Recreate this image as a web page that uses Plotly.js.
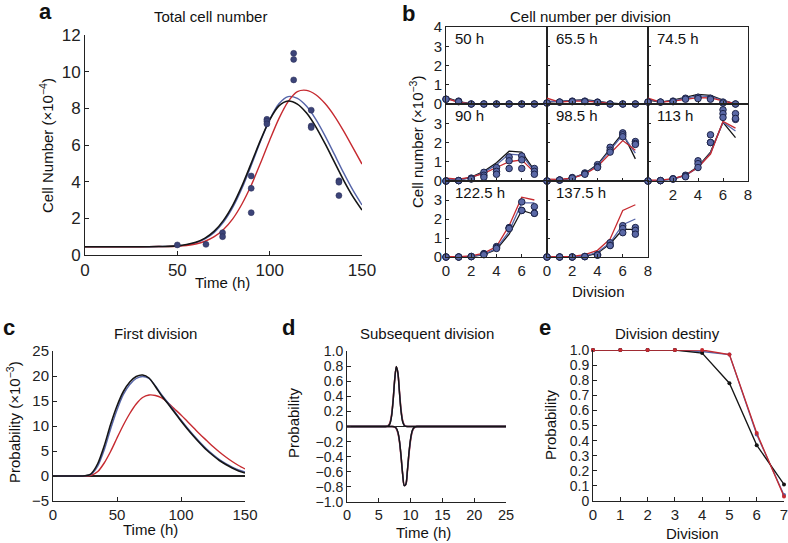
<!DOCTYPE html>
<html><head><meta charset="utf-8">
<script src="https://cdn.plot.ly/plotly-3.0.1.min.js"></script>
<style>html,body{margin:0;padding:0;background:#fff}#chart{width:788px;height:543px}</style>
</head><body><div id="chart"></div>
<script>
// ---------- Panel a : Total cell number ----------
const aTime  = [0,10,20,30,40,45,50,55,60,65,70,75,80,85,90,95,100,105,110,115,120,125,130,135,140,145,150];
const aBlack = [0.45,0.45,0.45,0.45,0.46,0.47,0.5,0.57,0.69,0.92,1.3,1.89,2.71,3.77,5.0,6.25,7.37,8.13,8.4,8.23,7.74,6.99,6.07,5.08,4.09,3.2,2.45];
const aBlue  = [0.45,0.45,0.45,0.45,0.46,0.47,0.5,0.55,0.67,0.88,1.23,1.79,2.59,3.64,4.88,6.19,7.38,8.25,8.64,8.54,8.11,7.4,6.5,5.5,4.49,3.55,2.73];
const aRed   = [0.45,0.45,0.45,0.45,0.46,0.46,0.48,0.52,0.6,0.75,1.0,1.39,1.97,2.78,3.8,5.0,6.26,7.44,8.37,8.91,8.98,8.74,8.26,7.59,6.77,5.87,4.96];
const aObsTime  = [50,65.5,74.5,74.5,90,90,90,98.5,98.5,98.5,113,113,113,122.5,122.5,122.5,137.5,137.5,137.5];
const aObsCount = [0.55,0.58,1.22,1.0,4.31,3.64,2.31,7.4,7.3,7.15,11.0,10.67,9.55,7.9,7.04,6.95,4.05,3.97,3.24];

// ---------- Panel b : Cell number per division ----------
const bDivision = [0,1,2,3,4,5,6,7];
const bTimes = ['50 h','65.5 h','74.5 h','90 h','98.5 h','113 h','122.5 h','137.5 h'];
const bObs50  = [[0.25,0.15,0,0,0,0,0,0],[0.25,0.12,0,0,0,0,0,0]];
const bObs65  = [[0.05,0.1,0.15,0.15,0.1,0,0,0],[0.05,0.1,0.12,0.12,0.08,0,0,0]];
const bObs74  = [[0.1,0.1,0.15,0.3,0.35,0.3,0.1,0],[0.1,0.1,0.12,0.25,0.28,0.25,0.05,0]];
const bObs90  = [[0,0.02,0.15,0.45,0.7,1.25,1.3,0.65],[0,0.02,0.12,0.3,0.5,1.05,1.1,0.5],[0,0.02,0.1,0.2,0.35,0.65,0.65,0.35]];
const bObs98  = [[0,0.05,0.18,0.42,0.85,1.75,2.5,2.05],[0,0.05,0.15,0.38,0.75,1.6,2.4,1.95],[0,0.05,0.15,0.35,0.7,1.5,2.3,1.9]];
const bObs113 = [[0,0.02,0.12,0.3,1.05,2.4,3.7,3.5],[0,0.02,0.1,0.25,0.9,2.0,3.5,3.2],[0,0.02,0.1,0.22,0.7,2.0,3.3,3.25]];
const bObs122 = [[0,0,0.03,0.18,0.55,1.55,2.9,2.65],[0,0,0.02,0.15,0.5,1.5,2.45,2.3],[0,0,0.02,0.12,0.45,1.5,2.45,2.3]];
const bObs137 = [[0,0,0,0.03,0.12,0.75,1.65,1.55],[0,0,0,0.02,0.1,0.62,1.5,1.4],[0,0,0,0.02,0.1,0.6,1.28,1.2]];
const bBlack = [[0.35,0.12,0.02,0,0,0,0,0],[0.1,0.15,0.2,0.22,0.15,0.05,0,0],[0.2,0.1,0.2,0.35,0.5,0.45,0.2,0],[0.1,0.05,0.2,0.5,0.95,1.55,1.5,0.55],[0.02,0.05,0.15,0.4,0.85,1.7,2.5,1.15],[0.02,0.03,0.1,0.3,0.75,1.5,3.05,2.25],[0,0,0.02,0.12,0.4,1.2,2.45,2.25],[0,0,0,0.03,0.2,0.7,1.45,1.45]];
const bBlue  = [[0.3,0.1,0.02,0,0,0,0,0],[0.15,0.12,0.18,0.2,0.12,0.04,0,0],[0.25,0.1,0.18,0.3,0.42,0.38,0.18,0],[0.08,0.05,0.18,0.45,0.85,1.4,1.35,0.5],[0.02,0.05,0.15,0.38,0.8,1.6,2.4,1.45],[0.02,0.03,0.1,0.28,0.7,1.45,3.05,2.6],[0,0,0.03,0.14,0.45,1.35,2.85,2.85],[0,0,0.01,0.05,0.25,0.75,1.7,2.0]];
const bRed   = [[0.3,0.08,0.01,0,0,0,0,0],[0.3,0.1,0.15,0.15,0.1,0.03,0,0],[0.3,0.1,0.15,0.25,0.33,0.32,0.15,0],[0.15,0.1,0.2,0.4,0.7,1.0,1.1,0.45],[0.1,0.08,0.15,0.35,0.75,1.4,2.1,1.6],[0.05,0.05,0.12,0.3,0.7,1.4,3.1,2.75],[0.02,0.02,0.06,0.2,0.55,1.65,3.15,3.0],[0,0,0.03,0.12,0.35,0.95,2.45,2.75]];

// ---------- Panel c : First division ----------
const cTime  = [0,20,25,28,30,35,40,45,50,55,60,65,70,75,80,85,90,95,100,105,110,115,120,125,130,135,140,145,150];
const cBlack = [0,0,0.05,0.2,0.5,2.5,6.0,10.3,14.0,16.9,18.8,19.9,20.2,19.6,17.9,16.0,14.4,12.7,11.0,9.4,7.9,6.5,5.2,4.1,3.1,2.3,1.6,1.0,0.6];
const cBlue  = [0,0,0.03,0.15,0.35,2.0,5.2,9.4,13.2,16.3,18.3,19.5,19.9,19.5,18.0,16.2,14.6,12.9,11.2,9.6,8.1,6.7,5.4,4.3,3.3,2.5,1.8,1.2,0.8];
const cRed   = [0,0,0,0.05,0.15,0.9,2.6,4.9,7.6,10.2,12.5,14.4,15.7,16.2,16.1,15.6,14.6,13.4,12.2,10.9,9.6,8.3,7.1,5.9,4.8,3.8,2.9,2.1,1.4];

// ---------- Panel d : Subsequent division ----------
const dTime     = [0,5,6,6.25,6.5,6.75,7,7.25,7.5,7.75,8,8.25,8.5,8.75,9,9.25,9.5,9.75,10,10.25,10.5,10.75,11,11.5,12,25];
const dPosBlack = [0,0,0,0.001,0.007,0.035,0.13,0.34,0.62,0.795,0.71,0.45,0.2,0.062,0.014,0.002,0,0,0,0,0,0,0,0,0,0];
const dNegBlack = [0,0,0,0,0,0,0,0,-0.005,-0.021,-0.071,-0.19,-0.39,-0.63,-0.784,-0.765,-0.58,-0.34,-0.16,-0.057,-0.016,-0.003,0,0,0,0];
const dPosBlue  = [0,0,0,0.002,0.01,0.04,0.14,0.34,0.62,0.79,0.71,0.45,0.21,0.07,0.017,0.003,0,0,0,0,0,0,0,0,0,0];
const dNegBlue  = [0,0,0,0,0,0,0,-0.001,-0.006,-0.025,-0.078,-0.195,-0.395,-0.63,-0.782,-0.767,-0.585,-0.35,-0.17,-0.063,-0.02,-0.004,0,0,0,0];
const dPosRed   = [0,0,0,0.003,0.015,0.05,0.15,0.35,0.62,0.79,0.71,0.46,0.22,0.08,0.022,0.005,0.001,0,0,0,0,0,0,0,0,0];
const dNegRed   = [0,0,0,0,0,0,0,-0.002,-0.008,-0.03,-0.085,-0.2,-0.4,-0.63,-0.78,-0.77,-0.59,-0.36,-0.18,-0.07,-0.025,-0.006,-0.001,0,0,0];

// ---------- Panel e : Division destiny ----------
const eDivision = [0,1,2,3,4,5,6,7];
const eBlack = [1,1,1,1,0.98,0.78,0.37,0.11];
const eBlue  = [1,1,1,1,0.99,0.97,0.44,0.04];
const eRed   = [1,1,1,1,1.0,0.97,0.45,0.03];

// ---------- styles ----------
const W=788,H=543;
const FONT='Liberation Sans, Arial, Helvetica, sans-serif';
const BLACK='#151515', BLUE='#5564a8', RED='#c62a30', AX='#222';
const X=(a,b)=>[a/W,b/W];
const Y=(top,bot)=>[1-bot/H,1-top/H];
const traces=[];
const layout={width:W,height:H,margin:{l:0,r:0,t:0,b:0},showlegend:false,
  paper_bgcolor:'#fff',plot_bgcolor:'rgba(0,0,0,0)',font:{family:FONT,color:AX},annotations:[]};

function ax(opts){
  return Object.assign({showgrid:false,zeroline:false,showline:true,linecolor:AX,linewidth:1,
    ticks:'inside',ticklen:4,tickcolor:AX,tickfont:{family:FONT,size:15,color:AX},
    ticklabeloverflow:'allow',fixedrange:true},opts);
}
function line(x,y,xa,ya,color,w,shape){
  traces.push({x:x,y:y,xaxis:xa,yaxis:ya,type:'scatter',mode:'lines',
    line:{color:color,width:w,shape:shape||'linear',smoothing:0.8},cliponaxis:false,hoverinfo:'skip'});
}
function ann(text,px,py,size,opts){
  layout.annotations.push(Object.assign({text:text,x:px/W,y:1-py/H,xref:'paper',yref:'paper',
    showarrow:false,xanchor:'center',yanchor:'middle',font:{family:FONT,size:size,color:'#111'}},opts||{}));
}

// ----- panel a -----
layout.xaxis = ax({domain:X(85,362),anchor:'y',range:[0,150],tickvals:[0,50,100,150],tickfont:{family:FONT,size:17,color:AX}});
layout.yaxis = ax({domain:Y(35,255),anchor:'x',range:[0,12],tickvals:[0,2,4,6,8,10,12],tickfont:{family:FONT,size:17,color:AX}});
line(aTime,aBlue,'x','y',BLUE,1.4,'spline');
line(aTime,aRed,'x','y',RED,1.4,'spline');
line(aTime,aBlack,'x','y',BLACK,1.6,'spline');
traces.push({x:aObsTime,y:aObsCount,xaxis:'x',yaxis:'y',type:'scatter',mode:'markers',
  marker:{color:'#3c4478',size:6,line:{color:'#262b55',width:0.5}},cliponaxis:false});
ann('<b>a</b>',45,12,22);
ann('Total cell number',210,16,15);
ann('Cell Number (×10<sup>−4</sup>)',46,146,15,{textangle:-90});
ann('Time (h)',222,282,15);

// ----- panel b -----
const bObs=[bObs50,bObs65,bObs74,bObs90,bObs98,bObs113,bObs122,bObs137];
const colPx=[[446,547],[547,648],[648,748]];
const rowPx=[[27,104],[104,181],[181,257]];
const bPos=[[0,0],[0,1],[0,2],[1,0],[1,1],[1,2],[2,0],[2,1]];
const bXlabels=[null,null,null,null,null,['','2','4','6','8'],['0','2','4','6',''],['0','2','4','6','8']];
for(let k=0;k<8;k++){
  const n=k+2, xa='x'+n, ya='y'+n;
  const [r,c]=bPos[k];
  const xl=bXlabels[k];
  layout['xaxis'+n]=ax({domain:X(colPx[c][0],colPx[c][1]),anchor:ya,range:[0,8],mirror:true,
    tickvals:[0,2,4,6,8],ticktext:xl||[' ',' ',' ',' ',' '],ticklen:3});
  let yv=[0,1,2,3,4], yt=[' ',' ',' ',' ',' '];
  if(c===0){ yt = r===0 ? ['0','1','2','3','4'] : ['0','1','2','3',' ']; }
  layout['yaxis'+n]=ax({domain:Y(rowPx[r][0],rowPx[r][1]),anchor:xa,range:[0,4],mirror:true,
    tickvals:yv,ticktext:yt,ticklen:3});
  line(bDivision,bBlack[k],xa,ya,BLACK,1.3);
  line(bDivision,bBlue[k],xa,ya,BLUE,1.3);
  line(bDivision,bRed[k],xa,ya,RED,1.3);
  const ox=[],oy=[];
  bObs[k].forEach(rep=>rep.forEach((v,i)=>{ox.push(bDivision[i]);oy.push(v);}));
  traces.push({x:ox,y:oy,xaxis:xa,yaxis:ya,type:'scatter',mode:'markers',
    marker:{color:'#5a68a6',size:6.5,line:{color:'#1d2348',width:1}},cliponaxis:false});
  ann(bTimes[k],colPx[c][0]+7,rowPx[r][0]+11,15,{xanchor:'left'});
}
ann('<b>b</b>',408,13,22);
ann('Cell number per division',590,16,15);
ann('Cell number (×10<sup>−3</sup>)',416,142,15,{textangle:-90});
ann('Division',598,291,15);

// ----- panel c -----
layout.xaxis10=ax({domain:X(53,245),anchor:'y10',range:[0,150],tickvals:[0,50,100,150]});
layout.yaxis10=ax({domain:Y(351,501),anchor:'x10',range:[-5,25],tickvals:[-5,0,5,10,15,20,25],
  zeroline:true,zerolinecolor:AX,zerolinewidth:1.5});
line(cTime,cRed,'x10','y10',RED,1.4,'spline');
line(cTime,cBlue,'x10','y10',BLUE,1.4,'spline');
line(cTime,cBlack,'x10','y10',BLACK,1.6,'spline');
ann('<b>c</b>',9,327,22);
ann('First division',155,333,15);
ann('Probability (×10<sup>−3</sup>)',13,422,15,{textangle:-90});
ann('Time (h)',150,529,15);

// ----- panel d -----
layout.xaxis11=ax({domain:X(347,506),anchor:'y11',range:[0,25],tickvals:[0,5,10,15,20,25],
  tickfont:{family:FONT,size:14.5,color:AX}});
layout.yaxis11=ax({domain:Y(351,502),anchor:'x11',range:[-1,1],
  tickvals:[1,0.8,0.6,0.4,0.2,0,-0.2,-0.4,-0.6,-0.8,-1],
  ticktext:['1.0','0.8','0.6','0.4','0.2','0','−0.2','−0.4','−0.6','−0.8','−1.0'],
  tickfont:{family:FONT,size:14,color:AX},zeroline:true,zerolinecolor:AX,zerolinewidth:1.3});
line(dTime,dPosRed,'x11','y11',RED,1.6,'spline');
line(dTime,dNegRed,'x11','y11',RED,1.6,'spline');
line(dTime,dPosBlue,'x11','y11',BLUE,1.4,'spline');
line(dTime,dNegBlue,'x11','y11',BLUE,1.4,'spline');
line(dTime,dPosBlack,'x11','y11',BLACK,1.4,'spline');
line(dTime,dNegBlack,'x11','y11',BLACK,1.4,'spline');
ann('<b>d</b>',288,327,22);
ann('Subsequent division',427,333,15);
ann('Probability',293,423,15,{textangle:-90});
ann('Time (h)',423,532,15);

// ----- panel e -----
layout.xaxis12=ax({domain:X(593,784),anchor:'y12',range:[0,7],tickvals:[0,1,2,3,4,5,6,7]});
layout.yaxis12=ax({domain:Y(350,501),anchor:'x12',range:[0,1],
  tickvals:[0,0.1,0.2,0.3,0.4,0.5,0.6,0.7,0.8,0.9,1],
  ticktext:['0','0.1','0.2','0.3','0.4','0.5','0.6','0.7','0.8','0.9','1.0'],
  tickfont:{family:FONT,size:14,color:AX}});
[[eBlue,BLUE],[eBlack,BLACK],[eRed,RED]].forEach(([v,col])=>{
  traces.push({x:eDivision,y:v,xaxis:'x12',yaxis:'y12',type:'scatter',mode:'lines+markers',
    line:{color:col,width:1.3},marker:{color:col,size:4},cliponaxis:false});
});
ann('<b>e</b>',545,327,22);
ann('Division destiny',667,333,15);
ann('Probability',550,425,15,{textangle:-90});
ann('Division',692,533,15);

Plotly.newPlot('chart',traces,layout,{staticPlot:true,displayModeBar:false});
</script>
</body></html>
